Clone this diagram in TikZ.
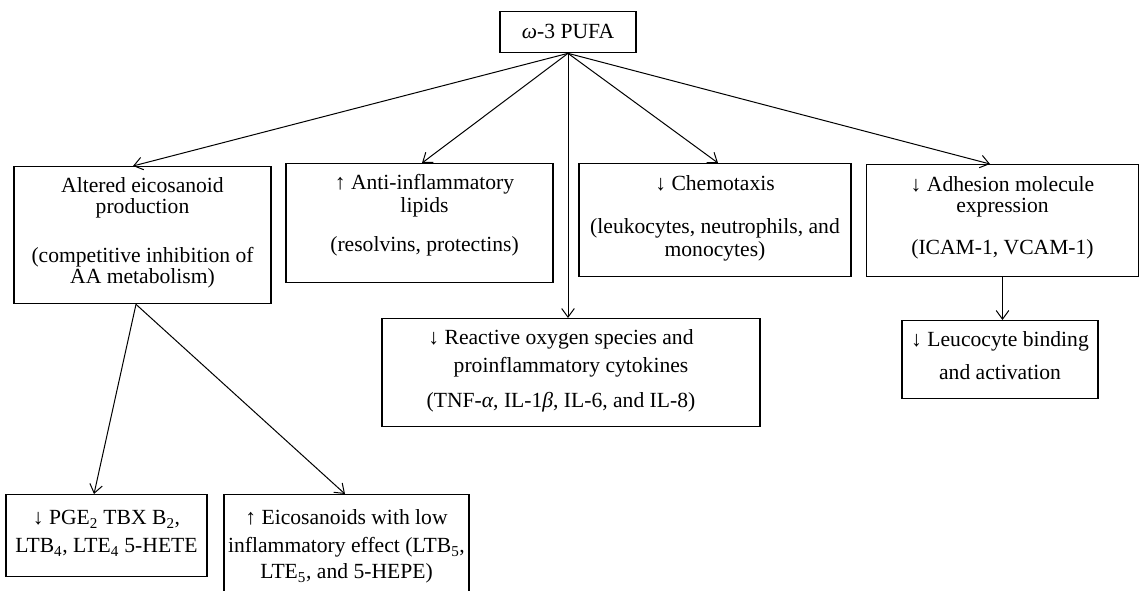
\documentclass[tikz,border=0pt]{standalone}
\usepackage{fontspec}
\setmainfont{Liberation Serif}
\usetikzlibrary{arrows.meta}
\newcommand{\hstrut}[1]{\rule{0pt}{#1}}
\newcommand{\dstrut}[1]{\rule[-#1]{0pt}{#1}}
\begin{document}
\lineskiplimit=-100pt
\begin{tikzpicture}[x=0.75pt,y=-0.75pt,
  box/.style={draw, line width=1pt, inner sep=0pt, anchor=north, align=center,
    font=\fontsize{16.2pt}{15.75pt}\selectfont},
  arr/.style={line width=0.75pt, -{Straight Barb[length=6.5pt,width=9.5pt,line width=0.75pt]}}]
\clip (0,0) rectangle (1140,590);
\fill[white] (0,0) rectangle (1140,590);

\node[box, minimum width=102pt] (top) at (568,11)
  {\hstrut{20.25pt}\textit{ω}-3 PUFA\dstrut{10.5pt}};

\node[box, minimum width=192.75pt] (alt) at (142.5,166)
  {\hstrut{19.5pt}Altered eicosanoid\\production\\[21pt](competitive inhibition of\\AA metabolism)\dstrut{15pt}};

\node[box, minimum width=200.25pt] (anti) at (419.5,163)
  {\hstrut{19.5pt}\hspace*{7.5pt}↑ Anti-inflammatory\\[1.5pt]\hspace*{7.5pt}lipids\\[13.5pt]\hspace*{7.5pt}(resolvins, protectins)\dstrut{23.25pt}};

\node[box, minimum width=204pt] (chemo) at (715,163)
  {\hstrut{20.25pt}↓ Chemotaxis\\[16.5pt](leukocytes, neutrophils, and\\[1.5pt]monocytes)\dstrut{15pt}};

\node[box, minimum width=204pt] (adh) at (1002.5,164)
  {\hstrut{20.25pt}↓ Adhesion molecule\\expression\\[15.75pt](ICAM-1, VCAM-1)\dstrut{16.5pt}};

\node[box, minimum width=283.5pt] (ros) at (571,318)
  {\hstrut{19.5pt}↓ Reactive oxygen species and\hspace*{15pt}\\[5.25pt]proinflammatory cytokines\hspace*{15pt}\\[10.5pt](TNF-\textit{α}, IL-1\textit{β}, IL-6, and IL-8)\hspace*{15pt}\dstrut{14.25pt}};

\node[box, minimum width=147pt] (leu) at (1000,320)
  {\hstrut{19.5pt}↓ Leucocyte binding\\[9pt]and activation\dstrut{14.25pt}};

\node[box, minimum width=150.75pt] (pge) at (106.5,494)
  {\hstrut{22.5pt}↓ PGE\textsubscript{2} TBX B\textsubscript{2},\\[5.25pt]LTB\textsubscript{4}, LTE\textsubscript{4} 5-HETE\dstrut{18pt}};

\node[box, minimum width=183.75pt] (eic) at (346.5,494)
  {\hstrut{22.5pt}↑ Eicosanoids with low\\[5.25pt]inflammatory effect (LTB\textsubscript{5},\\[3.75pt]LTE\textsubscript{5}, and 5-HEPE)\dstrut{16.5pt}};

\draw[arr] (top.south) -- ([xshift=-7.125pt]alt.north);
\draw[arr] (top.south) -- ([xshift=1.875pt]anti.north);
\draw[arr] (top.south) -- (top.south |- ros.north);
\draw[arr] (top.south) -- ([xshift=2.25pt]chemo.north);
\draw[arr] (top.south) -- ([xshift=-9.375pt]adh.north);
\draw[arr] (adh.south) -- (adh.south |- leu.north);
\draw[arr] ([xshift=-4.875pt]alt.south) -- ([xshift=-9.375pt]pge.north);
\draw[arr] ([xshift=-4.875pt]alt.south) -- ([xshift=-1.125pt]eic.north);
\end{tikzpicture}
\end{document}
